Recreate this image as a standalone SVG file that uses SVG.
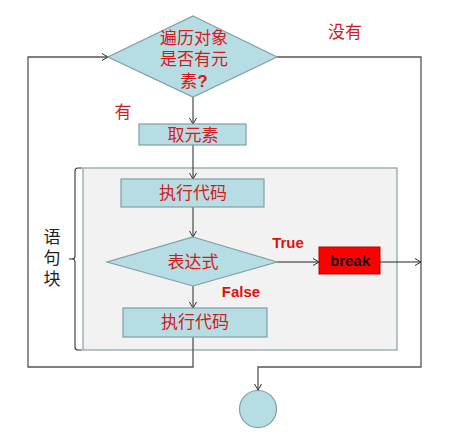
<svg xmlns="http://www.w3.org/2000/svg" width="457" height="438" viewBox="0 0 457 438">
<style>
.shape{fill:#b7dde4;stroke:#7f9ea6;stroke-width:1.2}
.lbl{font-family:"Liberation Sans","Noto Sans CJK SC",sans-serif;font-size:17px;fill:#d41a1a;text-anchor:middle}
.en{font-family:"Liberation Sans",Arial,sans-serif;font-weight:bold;font-size:15px;fill:#e01010;text-anchor:middle}
.vt{font-family:"Liberation Sans","Noto Sans CJK SC",sans-serif;font-size:17px;fill:#222;text-anchor:middle}
.conn{fill:none;stroke:#555;stroke-width:1.3}
.blk{fill:none;stroke:#222;stroke-width:1.1}
</style>
<defs>
<marker id="ah" markerWidth="8" markerHeight="8" refX="7" refY="4" orient="auto" markerUnits="userSpaceOnUse">
<path d="M1,0.5 L7,4 L1,7.5" fill="none" stroke="#333" stroke-width="1"/>
</marker>
</defs>
<rect width="457" height="438" fill="#fff"/>
<g id="block">
<rect x="83" y="168" width="314" height="182" fill="#f2f2f2" stroke="#8a9ea4" stroke-width="1.2"/>
<path d="M82,168 L78,168 Q75,168 75,171 L75,256 Q75,259 72,259 L69,259 M72,259 Q75,259 75,262 L75,347 Q75,350 78,350 L82,350" fill="none" stroke="#333" stroke-width="1.1"/>
<text class="vt" x="52" y="243">语</text>
<text class="vt" x="52" y="264">句</text>
<text class="vt" x="52" y="285">块</text>
</g>
<g id="connectors">
<path class="conn" d="M193,337 L193,367 L28,367 L28,57 L108,57" marker-end="url(#ah)"/>
<path class="conn" d="M277,57 L421,57 L421,367 L258,367 L258,390" marker-end="url(#ah)"/>
<path class="conn" d="M193,97 L193,124" marker-end="url(#ah)"/>
<path class="conn" d="M193,145 L193,179" marker-end="url(#ah)"/>
<path class="conn" d="M193,207 L193,237" marker-end="url(#ah)"/>
<path class="conn" d="M193,286 L193,308" marker-end="url(#ah)"/>
<path class="blk" d="M277,262 L319,262" marker-end="url(#ah)"/>
<path class="blk" d="M380,262 L421,262" marker-end="url(#ah)"/>
</g>
<g id="cond1">
<polygon class="shape" points="193,16 277,57 193,97 108,57"/>
<text class="lbl" x="194" y="44">遍历对象</text>
<text class="lbl" x="194" y="65">是否有元</text>
<text class="lbl" x="194" y="87">素<tspan font-weight="bold">?</tspan></text>
</g>
<g id="label-no"><text class="lbl" x="345" y="38">没有</text></g>
<g id="label-yes"><text class="lbl" x="123" y="118">有</text></g>
<g id="take">
<rect class="shape" x="139" y="124" width="107" height="21"/>
<text class="lbl" x="193" y="141">取元素</text>
</g>
<g id="exec1">
<rect class="shape" x="121" y="179" width="143" height="28"/>
<text class="lbl" x="193" y="199">执行代码</text>
</g>
<g id="cond2">
<polygon class="shape" points="193,237 277,262 193,286 107,262"/>
<text class="lbl" x="193" y="268">表达式</text>
</g>
<g id="label-true"><text class="en" x="288" y="248">True</text></g>
<g id="label-false"><text class="en" x="241" y="297">False</text></g>
<g id="break">
<rect x="319" y="247" width="61" height="27" fill="#ff0000" stroke="#b00" stroke-width="1"/>
<text x="350" y="266" font-family="'Liberation Sans',Arial,sans-serif" font-weight="bold" font-size="15" fill="#111" text-anchor="middle">break</text>
</g>
<g id="exec2">
<rect class="shape" x="123" y="308" width="144" height="29"/>
<text class="lbl" x="195" y="328">执行代码</text>
</g>
<g id="end">
<circle class="shape" cx="258" cy="409" r="18.5"/>
</g>
</svg>
